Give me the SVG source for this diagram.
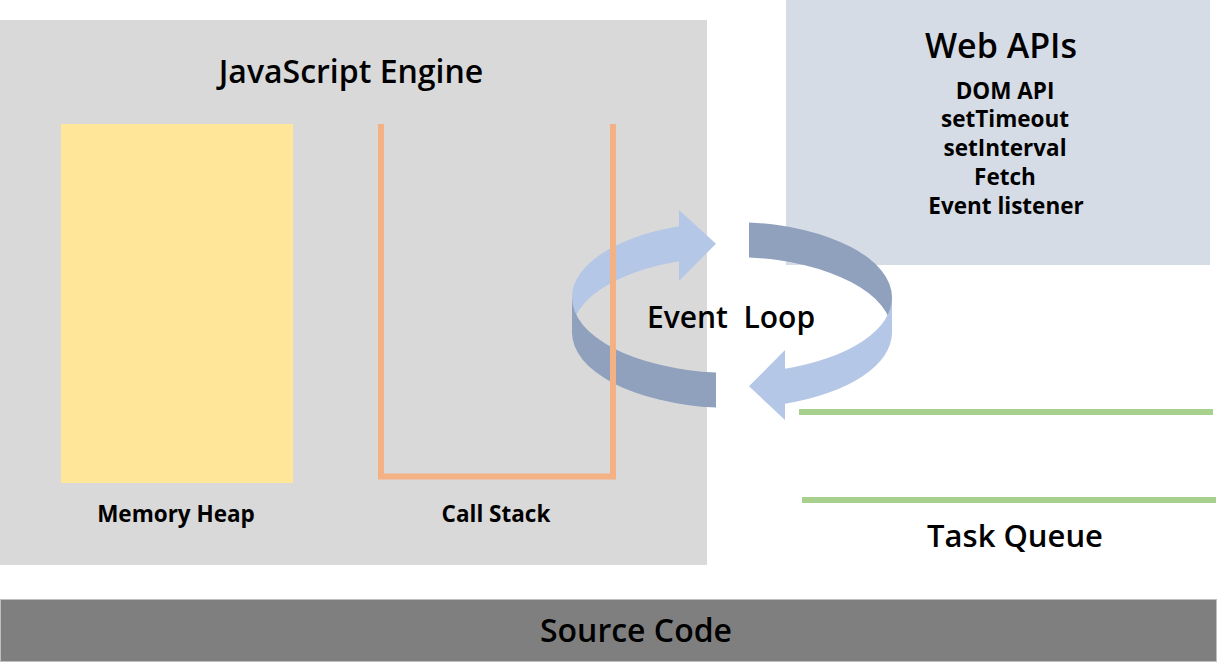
<svg xmlns="http://www.w3.org/2000/svg" width="1217" height="668" viewBox="0 0 1217 668">
  <style>
    .t { font-family: "Open Sans", "Noto Sans", "Liberation Sans", sans-serif; fill: #000; text-anchor: middle; }
    .big { font-size: 32px; font-weight: 600; }
    .small { font-size: 22.5px; font-weight: 700; }
    .lite { fill: #B4C7E7; }
    .dark { fill: #8FA1BC; }
    .cs { stroke: #F4B183; stroke-width: 6; fill: none; }
    .tq { stroke: #A9D18E; stroke-width: 6; fill: none; }
  </style>
  <rect width="1217" height="668" fill="#FFFFFF"/>

  <g id="js-engine">
    <rect x="0" y="20" width="707" height="545" fill="#D9D9D9"/>
    <text class="t big" x="351" y="83">JavaScript Engine</text>
  </g>

  <g id="web-apis">
    <rect x="786" y="0" width="424" height="265" fill="#D6DCE5"/>
    <text class="t big" x="1001" y="58" style="font-size:34px">Web APIs</text>
    <text class="t small" x="1005" y="99">DOM API</text>
    <text class="t small" x="1005" y="127">setTimeout</text>
    <text class="t small" x="1005" y="156">setInterval</text>
    <text class="t small" x="1005" y="185">Fetch</text>
    <text class="t small" x="1006" y="214">Event listener</text>
  </g>

  <g id="memory-heap">
    <rect x="61" y="124" width="232" height="359" fill="#FFE699"/>
    <text class="t small" x="176" y="522">Memory Heap</text>
  </g>

  <g id="connectors">
    <g id="event-loop-ring">
      <path class="lite" d="M572,297.5 A160,75.5 0 0 1 679,226.2 L679,210 L716,243.7 L679,281 L679,261.2 A160,75.5 0 0 0 572,332.5 Z"/>
      <path class="dark" d="M572,297.5 A160,75.5 0 0 0 716,372.6 L716,407.6 A160,75.5 0 0 1 572,332.5 Z"/>
      <path class="dark" d="M749,222.4 A160,75.5 0 0 1 892,297.5 L892,332.5 A160,75.5 0 0 0 749,257.4 Z"/>
      <path class="lite" d="M892,297.5 A160,75.5 0 0 1 785,368.8 L785,350 L749,386.3 L785,420 L785,403.8 A160,75.5 0 0 0 892,332.5 Z"/>
    </g>
  </g>

  <g id="event-loop">
    <text class="t big" x="731" y="328" style="white-space:pre;font-size:30px">Event  Loop</text>
  </g>

  <g id="call-stack">
    <path class="cs" d="M381,124 V476.5 H613 V124"/>
    <text class="t small" x="496" y="522">Call Stack</text>
  </g>

  <g id="task-queue">
    <line class="tq" x1="799" y1="412" x2="1213" y2="412"/>
    <line class="tq" x1="802" y1="500" x2="1216" y2="500"/>
    <text class="t big" x="1015" y="547" style="font-size:31px">Task Queue</text>
  </g>

  <g id="source-code">
    <rect x="0.5" y="599.5" width="1216" height="62" fill="#7F7F7F" stroke="#BFBFBF" stroke-width="1"/>
    <text class="t big" x="636" y="642">Source Code</text>
  </g>
</svg>
